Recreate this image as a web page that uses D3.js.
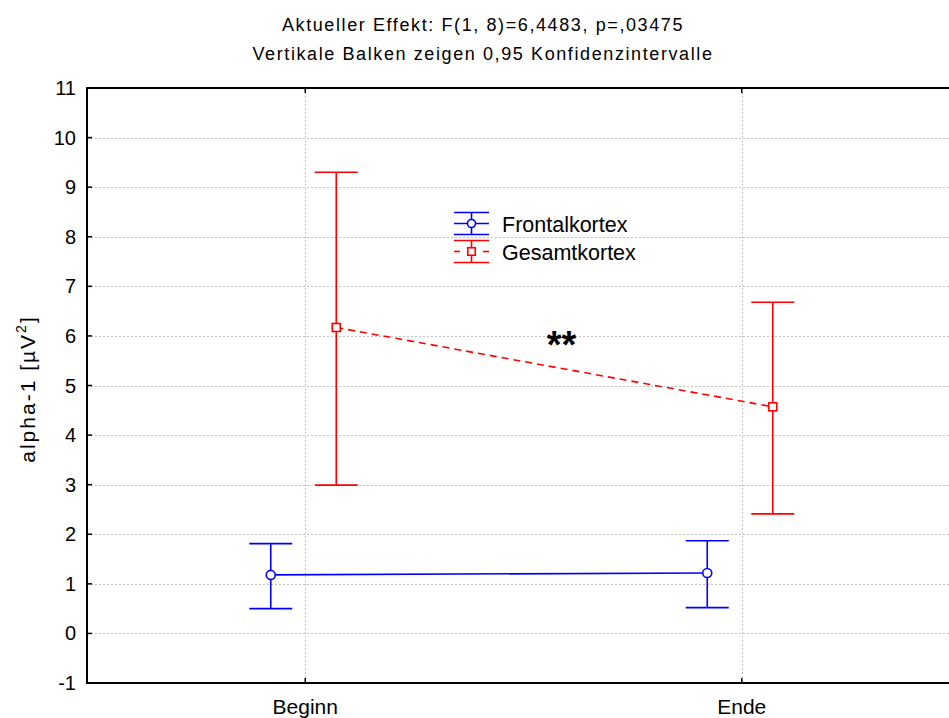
<!DOCTYPE html>
<html>
<head>
<meta charset="utf-8">
<script src="https://cdn.jsdelivr.net/npm/d3@7"></script>
<style>
  body { margin: 0; background: #fff; }
  svg { display: block; font-family: "Liberation Sans", Arial, sans-serif; }
</style>
</head>
<body>
<svg id="chart" width="949" height="718"></svg>
<script>
// Means and 0.95 confidence limits per measurement time
const categories = ["Beginn", "Ende"];
const seriesNames = ["Frontalkortex", "Gesamtkortex"];
const frontalMean = [1.18, 1.22];
const frontalLower = [0.50, 0.52];
const frontalUpper = [1.81, 1.87];
const gesamtMean = [6.17, 4.57];
const gesamtLower = [2.99, 2.41];
const gesamtUpper = [9.30, 6.68];
const yTicks = [-1, 0, 1, 2, 3, 4, 5, 6, 7, 8, 9, 10, 11];
const titleLines = [
  "Aktueller Effekt: F(1, 8)=6,4483, p=,03475",
  "Vertikale Balken zeigen 0,95 Konfidenzintervalle"
];
const significanceMark = "**";
const significanceLevel = 5.6;   // vertical placement of the marker, in data units

const series = [
  { name: seriesNames[0], mean: frontalMean, lower: frontalLower, upper: frontalUpper,
    color: "#0000ff", marker: "circle", dash: null, dodge: -34.5 },
  { name: seriesNames[1], mean: gesamtMean, lower: gesamtLower, upper: gesamtUpper,
    color: "#ff0000", marker: "square", dash: "7,5", dodge: 31 }
];

const svg = d3.select("#chart");
const plotLeft = 87, plotTop = 88, plotBottom = 683, plotRight = 960;

// Categories sit at 1 and 2 on a continuous axis running 0.5 .. 2.5
const x = d3.scaleLinear().domain([0.5, 2.5]).range([plotLeft, plotRight]);
const y = d3.scaleLinear().domain([-1, 11]).range([plotBottom, plotTop]);

// Dotted grid
const grid = svg.append("g")
  .attr("stroke", "#c4c4c4").attr("stroke-width", 1).attr("stroke-dasharray", "2,2");
grid.selectAll("line.h").data(yTicks.filter(t => t > -1 && t < 11)).join("line")
  .attr("class", "h")
  .attr("x1", plotLeft).attr("x2", plotRight)
  .attr("y1", d => Math.round(y(d)) + 0.5).attr("y2", d => Math.round(y(d)) + 0.5);
grid.selectAll("line.v").data(categories).join("line")
  .attr("class", "v")
  .attr("x1", (d, i) => Math.round(x(i + 1)) + 0.5).attr("x2", (d, i) => Math.round(x(i + 1)) + 0.5)
  .attr("y1", plotTop).attr("y2", plotBottom);

// Frame (the right edge falls outside the view)
svg.append("path")
  .attr("d", `M${plotRight},${plotTop}H${plotLeft}V${plotBottom}H${plotRight}`)
  .attr("fill", "none").attr("stroke", "#000").attr("stroke-width", 2);

// Inward tick marks
const ticks = svg.append("g").attr("stroke", "#000").attr("stroke-width", 1.5);
ticks.selectAll("line.yt").data(yTicks).join("line")
  .attr("class", "yt")
  .attr("x1", plotLeft).attr("x2", plotLeft + 5)
  .attr("y1", d => y(d)).attr("y2", d => y(d));
categories.forEach((c, i) => {
  ticks.append("line").attr("x1", x(i + 1)).attr("x2", x(i + 1)).attr("y1", plotBottom).attr("y2", plotBottom - 5);
  ticks.append("line").attr("x1", x(i + 1)).attr("x2", x(i + 1)).attr("y1", plotTop).attr("y2", plotTop + 5);
});

// Y tick labels
svg.append("g").selectAll("text").data(yTicks).join("text")
  .attr("x", 76).attr("y", d => y(d) + 7)
  .attr("text-anchor", "end").attr("font-size", 20).attr("fill", "#000")
  .text(d => d);

// X category labels
svg.append("g").selectAll("text").data(categories).join("text")
  .attr("x", (d, i) => x(i + 1)).attr("y", 714)
  .attr("text-anchor", "middle").attr("font-size", 21).attr("fill", "#000")
  .text(d => d);

// Y axis title
const yTitle = svg.append("text")
  .attr("transform", "translate(35,389) rotate(-90)")
  .attr("text-anchor", "middle").attr("font-size", 21).attr("letter-spacing", 2).attr("fill", "#000");
yTitle.append("tspan").text("alpha-1 [µV");
yTitle.append("tspan").attr("font-size", 14).attr("dy", -9).text("2");
yTitle.append("tspan").attr("dy", 9).text("]");

// Chart title
svg.append("g").selectAll("text").data(titleLines).join("text")
  .attr("x", 483).attr("y", (d, i) => 31 + i * 28.5)
  .attr("text-anchor", "middle").attr("font-size", 18).attr("letter-spacing", 1.6).attr("fill", "#000")
  .text(d => d);

const capHalf = 21.5;

function drawMarker(g, s, cx, cy, size) {
  if (s.marker === "circle") {
    g.append("circle").attr("cx", cx).attr("cy", cy).attr("r", size / 2)
      .attr("fill", "#fff").attr("stroke", s.color).attr("stroke-width", 1.6);
  } else {
    g.append("rect").attr("x", cx - size / 2).attr("y", cy - size / 2)
      .attr("width", size).attr("height", size)
      .attr("fill", "#fff").attr("stroke", s.color).attr("stroke-width", 1.6);
  }
}

series.forEach(s => {
  const g = svg.append("g");
  const px = i => x(i + 1) + s.dodge;

  // connecting line between the two means
  const line = d3.line().x((d, i) => px(i)).y(d => y(d));
  g.append("path").attr("d", line(s.mean))
    .attr("fill", "none").attr("stroke", s.color).attr("stroke-width", 1.6)
    .attr("stroke-dasharray", s.dash);

  // confidence interval whiskers
  s.mean.forEach((m, i) => {
    const cx = px(i);
    g.append("line").attr("x1", cx).attr("x2", cx)
      .attr("y1", y(s.lower[i])).attr("y2", y(s.upper[i]))
      .attr("stroke", s.color).attr("stroke-width", 1.6);
    [s.lower[i], s.upper[i]].forEach(v => {
      g.append("line").attr("x1", cx - capHalf).attr("x2", cx + capHalf)
        .attr("y1", y(v)).attr("y2", y(v))
        .attr("stroke", s.color).attr("stroke-width", 1.6);
    });
    drawMarker(g, s, cx, y(m), s.marker === "circle" ? 9 : 8);
  });
});

// Significance marker between the Gesamtkortex means
svg.append("text")
  .attr("x", (x(1) + x(2)) / 2 + 38).attr("y", y(significanceLevel) + 2)
  .attr("text-anchor", "middle").attr("font-size", 38).attr("font-weight", "bold").attr("fill", "#000")
  .text(significanceMark);

// Legend with small whisker symbols
const legend = svg.append("g");
series.forEach((s, k) => {
  const cy = 223.5 + k * 28;
  const cx = 471.5;
  const lg = legend.append("g");
  [cy - 11, cy + 11].forEach(v => {
    lg.append("line").attr("x1", cx - 17.5).attr("x2", cx + 17.5).attr("y1", v).attr("y2", v)
      .attr("stroke", s.color).attr("stroke-width", 1.6);
  });
  lg.append("line").attr("x1", cx).attr("x2", cx).attr("y1", cy - 11).attr("y2", cy + 11)
    .attr("stroke", s.color).attr("stroke-width", 1.6);
  if (s.dash) {
    [[cx - 17.5, cx - 11.5], [cx + 11.5, cx + 17.5]].forEach(([a, b]) => {
      lg.append("line").attr("x1", a).attr("x2", b).attr("y1", cy).attr("y2", cy)
        .attr("stroke", s.color).attr("stroke-width", 1.6);
    });
  } else {
    lg.append("line").attr("x1", cx - 17.5).attr("x2", cx + 17.5).attr("y1", cy).attr("y2", cy)
      .attr("stroke", s.color).attr("stroke-width", 1.6);
  }
  drawMarker(lg, s, cx, cy, s.marker === "circle" ? 8 : 7.5);
  lg.append("text").attr("x", 502).attr("y", cy + 8.5)
    .attr("font-size", 21.5).attr("fill", "#000").text(s.name);
});
</script>
</body>
</html>
